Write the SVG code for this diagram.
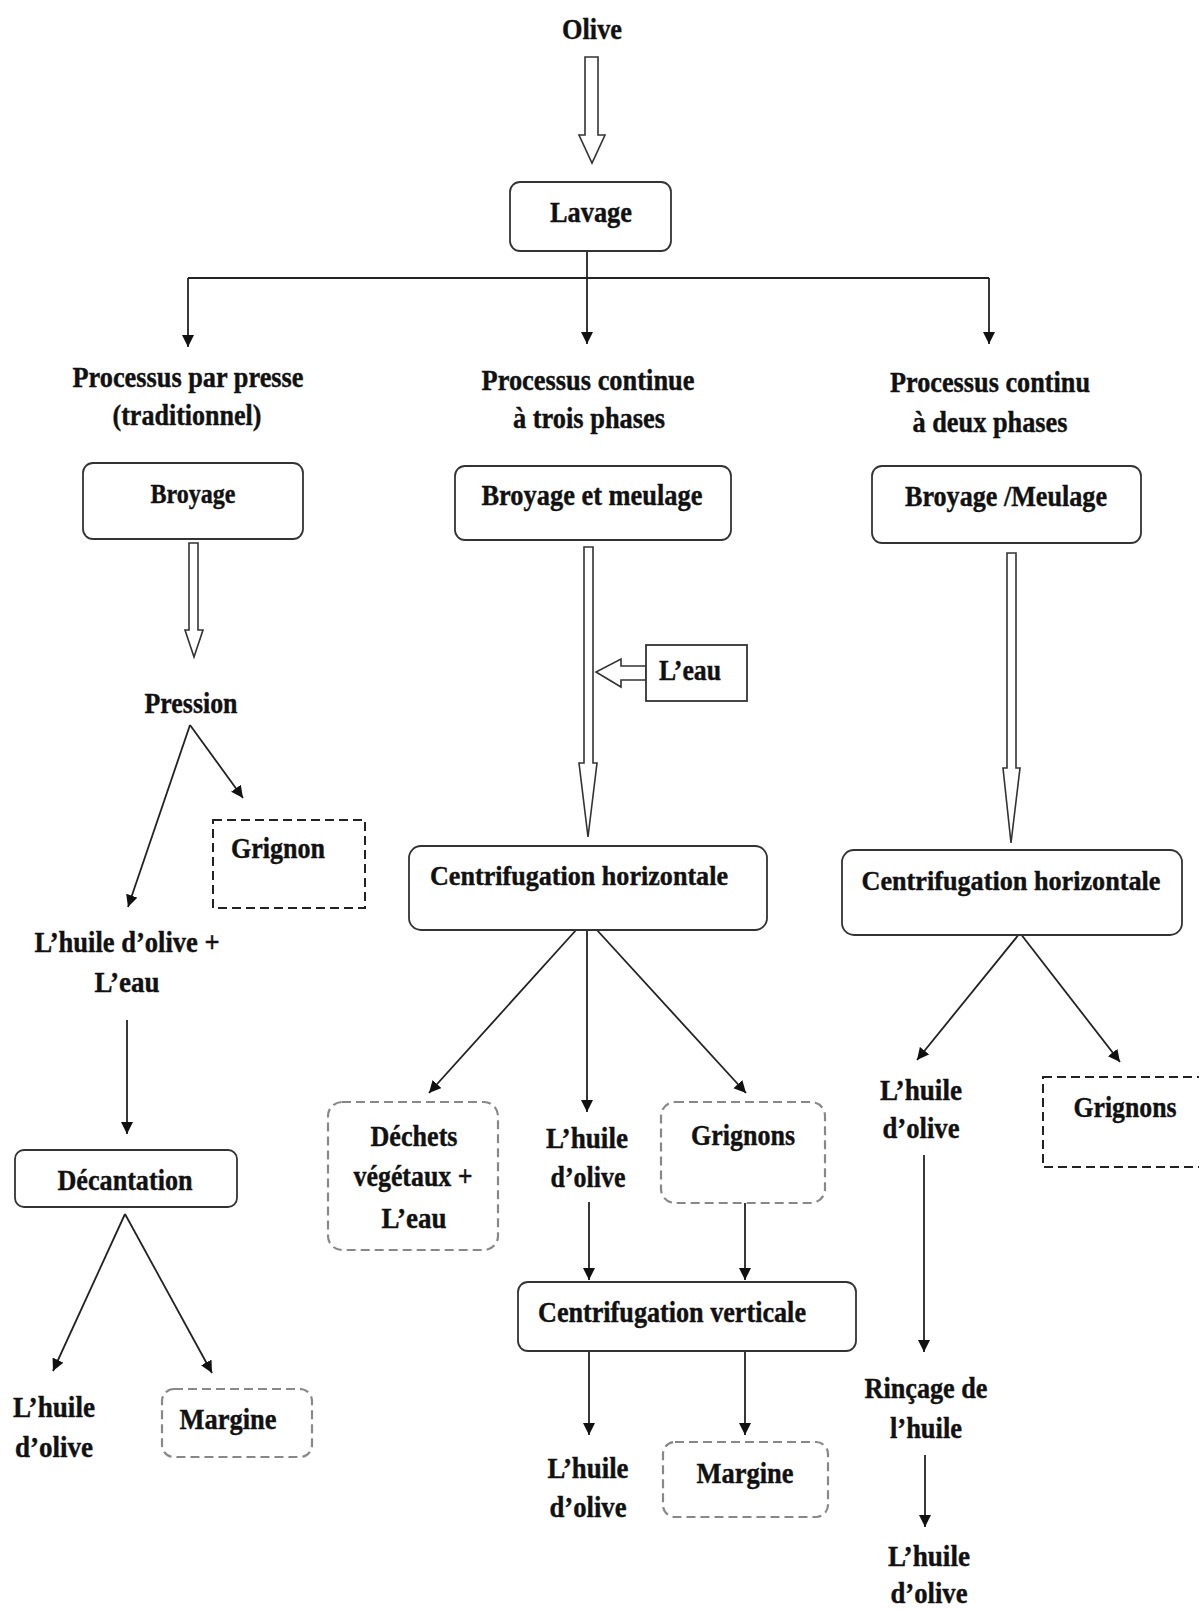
<svg xmlns="http://www.w3.org/2000/svg" width="1199" height="1611" viewBox="0 0 1199 1611">
  <defs>
    <marker id="arr" markerUnits="userSpaceOnUse" markerWidth="13" markerHeight="13" refX="12" refY="6" orient="auto">
      <path d="M0,0 L12,6 L0,12 z" fill="#111"/>
    </marker>
  </defs>
  <style>
    text { font-family: "Liberation Serif", "Times New Roman", serif; font-weight: bold; font-size: 30px; fill: #111; stroke: #111; stroke-width: 0.4; text-anchor: middle; }
    .sm { font-size: 28px; }
    .wide { font-size: 28px; }
    .box { fill: #fff; stroke: #333; stroke-width: 1.8; }
    .dashk { fill: #fff; stroke: #222; stroke-width: 2; stroke-dasharray: 9 5; }
    .dashg { fill: #fff; stroke: #888; stroke-width: 2.2; stroke-dasharray: 9 5; }
    .line { fill: none; stroke: #222; stroke-width: 1.8; }
    .arrow { fill: none; stroke: #222; stroke-width: 1.8; marker-end: url(#arr); }
    .hollow { fill: #fff; stroke: #333; stroke-width: 1.6; stroke-linejoin: miter; }
  </style>

  <rect width="1199" height="1611" fill="#fff"/>

  <!-- connectors -->
  <g id="connectors">
    <!-- hollow block arrows -->
    <path class="hollow" d="M585,57 H598 V135 H605 L592,163 L579,135 H585 Z"/>
    <path class="hollow" d="M189,543 H198 V630 H203 L194,657 L185,630 H189 Z"/>
    <path class="hollow" d="M584,547 H593 V763 H597 L588,837 L579,763 H584 Z"/>
    <path class="hollow" d="M1007,553 H1016 V768 H1020 L1011,843 L1003,768 H1007 Z"/>
    <path class="hollow" d="M646,666 H621 V659 L596,672 L621,687 V680 H646 Z"/>

    <!-- split after washing -->
    <path class="line" d="M587,251 V278 M188,278 H989"/>
    <path class="arrow" d="M188,278 V347"/>
    <path class="arrow" d="M587,278 V344"/>
    <path class="arrow" d="M989,278 V344"/>

    <!-- press branch -->
    <path class="arrow" d="M190,725 L128,907"/>
    <path class="arrow" d="M190,725 L243,798"/>
    <path class="arrow" d="M127,1020 V1134"/>
    <path class="arrow" d="M125,1214 L53,1371"/>
    <path class="arrow" d="M125,1214 L212,1373"/>

    <!-- three-phase branch -->
    <path class="arrow" d="M577,929 L429,1093"/>
    <path class="arrow" d="M587,929 V1112"/>
    <path class="arrow" d="M596,929 L746,1093"/>
    <path class="arrow" d="M589,1202 V1280"/>
    <path class="arrow" d="M745,1203 V1280"/>
    <path class="arrow" d="M589,1351 V1435"/>
    <path class="arrow" d="M745,1351 V1435"/>

    <!-- two-phase branch -->
    <path class="arrow" d="M1020,933 L917,1060"/>
    <path class="arrow" d="M1020,933 L1120,1062"/>
    <path class="arrow" d="M924,1155 V1352"/>
    <path class="arrow" d="M925,1455 V1527"/>
  </g>

  <g id="olive"><text x="592" y="39" textLength="60" lengthAdjust="spacingAndGlyphs">Olive</text></g>

  <g id="lavage">
    <rect class="box" x="510" y="182" width="161" height="69" rx="10"/>
    <text x="591" y="222" textLength="82" lengthAdjust="spacingAndGlyphs">Lavage</text>
  </g>

  <!-- press process -->
  <g id="presse-titre">
    <text x="188" y="387" textLength="231" lengthAdjust="spacingAndGlyphs">Processus par presse</text>
    <text x="187" y="425" textLength="149" lengthAdjust="spacingAndGlyphs">(traditionnel)</text>
  </g>
  <g id="broyage">
    <rect class="box" x="83" y="463" width="220" height="76" rx="10"/>
    <text class="sm" x="193" y="503" textLength="85" lengthAdjust="spacingAndGlyphs">Broyage</text>
  </g>
  <g id="pression"><text x="191" y="713" textLength="93" lengthAdjust="spacingAndGlyphs">Pression</text></g>
  <g id="grignon">
    <rect class="dashk" x="213" y="820" width="152" height="88"/>
    <text x="278" y="858" textLength="94" lengthAdjust="spacingAndGlyphs">Grignon</text>
  </g>
  <g id="huile-eau">
    <text x="127" y="952" textLength="185" lengthAdjust="spacingAndGlyphs">L’huile d’olive +</text>
    <text x="127" y="992" textLength="65" lengthAdjust="spacingAndGlyphs">L’eau</text>
  </g>
  <g id="decantation">
    <rect class="box" x="15" y="1150" width="222" height="57" rx="9"/>
    <text x="125" y="1190" textLength="135" lengthAdjust="spacingAndGlyphs">Décantation</text>
  </g>
  <g id="huile-presse">
    <text x="54" y="1417" textLength="82" lengthAdjust="spacingAndGlyphs">L’huile</text>
    <text x="54" y="1457" textLength="78" lengthAdjust="spacingAndGlyphs">d’olive</text>
  </g>
  <g id="margine-presse">
    <rect class="dashg" x="162" y="1389" width="150" height="68" rx="12"/>
    <text x="228" y="1429" textLength="97" lengthAdjust="spacingAndGlyphs">Margine</text>
  </g>

  <!-- three-phase continuous process -->
  <g id="trois-titre">
    <text x="588" y="390" textLength="213" lengthAdjust="spacingAndGlyphs">Processus continue</text>
    <text x="589" y="428" textLength="152" lengthAdjust="spacingAndGlyphs">à trois phases</text>
  </g>
  <g id="broyage-meulage">
    <rect class="box" x="455" y="466" width="276" height="74" rx="10"/>
    <text x="592" y="505" textLength="221" lengthAdjust="spacingAndGlyphs">Broyage et meulage</text>
  </g>
  <g id="eau">
    <rect x="646" y="645" width="101" height="56" fill="#fff" stroke="#333" stroke-width="1.8"/>
    <text x="690" y="680" textLength="62" lengthAdjust="spacingAndGlyphs">L’eau</text>
  </g>
  <g id="centri-h3">
    <rect class="box" x="409" y="846" width="358" height="84" rx="12"/>
    <text class="wide" x="579" y="885" textLength="298" lengthAdjust="spacingAndGlyphs">Centrifugation horizontale</text>
  </g>
  <g id="dechets">
    <rect class="dashg" x="328" y="1102" width="170" height="148" rx="14"/>
    <text x="414" y="1146" textLength="87" lengthAdjust="spacingAndGlyphs">Déchets</text>
    <text x="413" y="1186" textLength="119" lengthAdjust="spacingAndGlyphs">végétaux +</text>
    <text x="414" y="1228" textLength="65" lengthAdjust="spacingAndGlyphs">L’eau</text>
  </g>
  <g id="huile-h3">
    <text x="587" y="1148" textLength="82" lengthAdjust="spacingAndGlyphs">L’huile</text>
    <text x="588" y="1187" textLength="75" lengthAdjust="spacingAndGlyphs">d’olive</text>
  </g>
  <g id="grignons-h3">
    <rect class="dashg" x="661" y="1102" width="164" height="101" rx="14"/>
    <text x="743" y="1145" textLength="104" lengthAdjust="spacingAndGlyphs">Grignons</text>
  </g>
  <g id="centri-v">
    <rect class="box" x="518" y="1282" width="338" height="69" rx="10"/>
    <text x="672" y="1322" textLength="268" lengthAdjust="spacingAndGlyphs">Centrifugation verticale</text>
  </g>
  <g id="huile-v">
    <text x="588" y="1478" textLength="81" lengthAdjust="spacingAndGlyphs">L’huile</text>
    <text x="588" y="1517" textLength="77" lengthAdjust="spacingAndGlyphs">d’olive</text>
  </g>
  <g id="margine-v">
    <rect class="dashg" x="663" y="1442" width="165" height="75" rx="12"/>
    <text x="745" y="1483" textLength="97" lengthAdjust="spacingAndGlyphs">Margine</text>
  </g>

  <!-- two-phase continuous process -->
  <g id="deux-titre">
    <text x="990" y="392" textLength="200" lengthAdjust="spacingAndGlyphs">Processus continu</text>
    <text x="990" y="432" textLength="155" lengthAdjust="spacingAndGlyphs">à deux phases</text>
  </g>
  <g id="broyage-meulage2">
    <rect class="box" x="872" y="466" width="269" height="77" rx="10"/>
    <text x="1006" y="506" textLength="202" lengthAdjust="spacingAndGlyphs">Broyage /Meulage</text>
  </g>
  <g id="centri-h2">
    <rect class="box" x="842" y="850" width="340" height="85" rx="12"/>
    <text class="wide" x="1011" y="890" textLength="299" lengthAdjust="spacingAndGlyphs">Centrifugation horizontale</text>
  </g>
  <g id="huile-h2">
    <text x="921" y="1100" textLength="82" lengthAdjust="spacingAndGlyphs">L’huile</text>
    <text x="921" y="1138" textLength="77" lengthAdjust="spacingAndGlyphs">d’olive</text>
  </g>
  <g id="grignons-h2">
    <rect class="dashk" x="1043" y="1077" width="170" height="90"/>
    <text x="1125" y="1117" textLength="103" lengthAdjust="spacingAndGlyphs">Grignons</text>
  </g>
  <g id="rincage">
    <text x="926" y="1398" textLength="123" lengthAdjust="spacingAndGlyphs">Rinçage de</text>
    <text x="926" y="1438" textLength="72" lengthAdjust="spacingAndGlyphs">l’huile</text>
  </g>
  <g id="huile-finale">
    <text x="929" y="1566" textLength="82" lengthAdjust="spacingAndGlyphs">L’huile</text>
    <text x="929" y="1603" textLength="77" lengthAdjust="spacingAndGlyphs">d’olive</text>
  </g>
</svg>
